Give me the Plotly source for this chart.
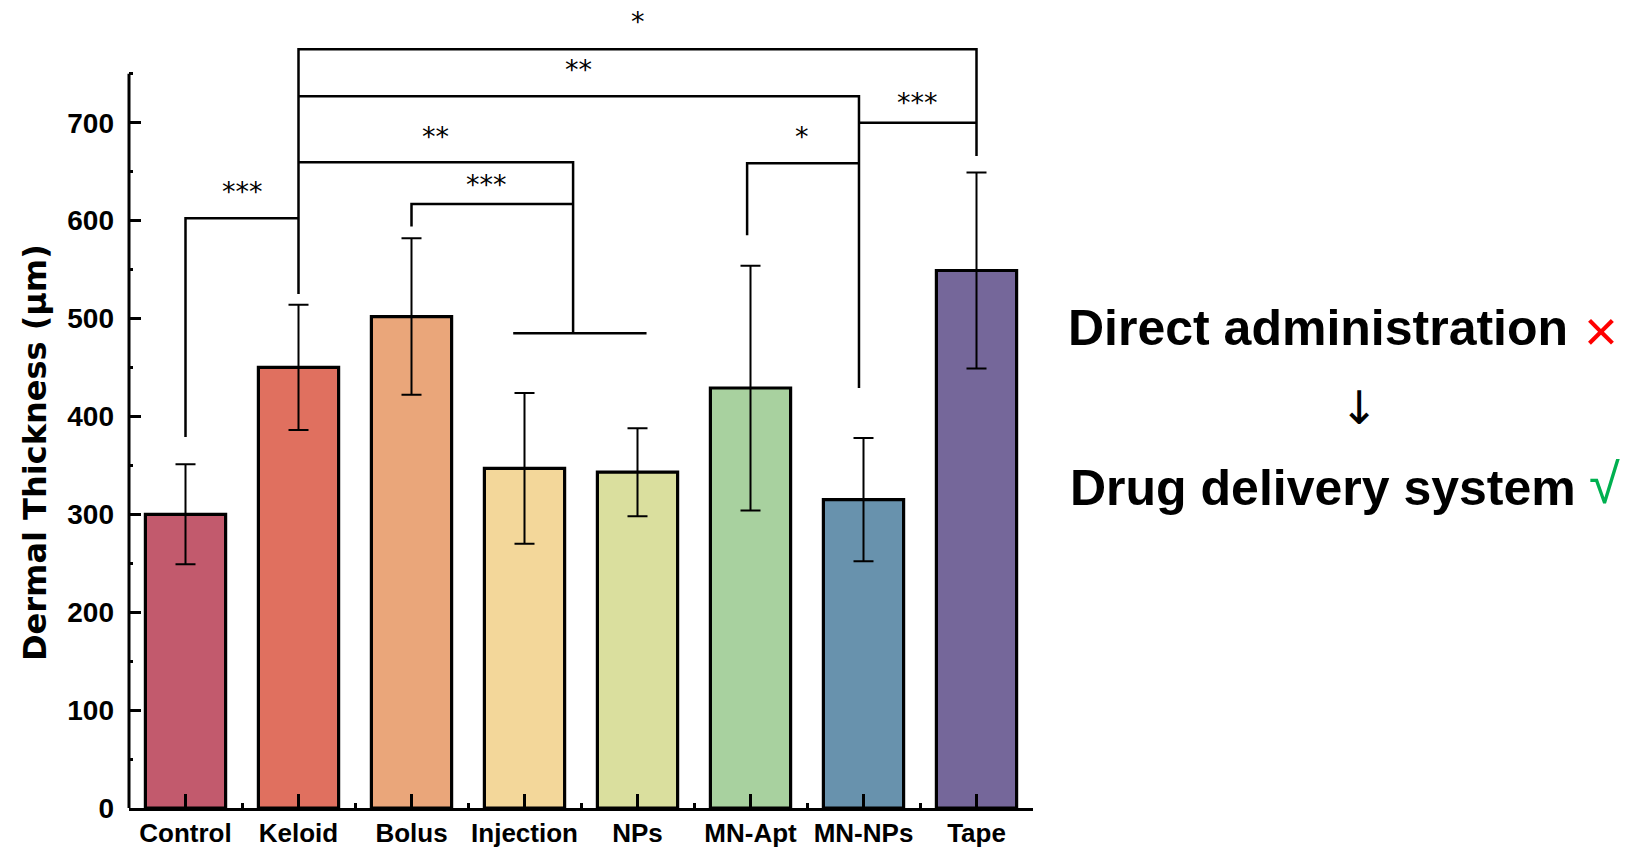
import plotly.graph_objects as go

# ---------------- data ----------------
categories = ["Control", "Keloid", "Bolus", "Injection", "NPs", "MN-Apt", "MN-NPs", "Tape"]
means = [300, 450, 502, 347, 343, 429, 315, 549]
errors = [51, 64, 80, 77, 45, 125, 63, 100]
bar_colors = ["#C25A6D", "#E0705F", "#EAA67A", "#F3D79A", "#DADF9E", "#A8D19F", "#6892AD", "#75679A"]

y_tickvals = [0, 100, 200, 300, 400, 500, 600, 700]
y_minor = [50, 150, 250, 350, 450, 550, 650, 750]
x_minor = [-0.5, 0.5, 1.5, 2.5, 3.5, 4.5, 5.5, 6.5, 7.5]

# significance brackets: polylines in (category index, value)
bracket_paths = [
    [(0, 379), (0, 602.5), (1, 602.5)],
    [(1, 525), (1, 775), (7, 775), (7, 666)],
    [(1, 727), (5.96, 727), (5.96, 429)],
    [(5.96, 700), (7, 700)],
    [(4.97, 585), (4.97, 658.5), (5.96, 658.5)],
    [(1, 659.5), (3.43, 659.5), (3.43, 485)],
    [(2, 594), (2, 617), (3.43, 617)],
    [(2.90, 485), (4.08, 485)],
]
star_labels = [
    (4.0, 805, "*"),
    (3.48, 756, "**"),
    (6.48, 723, "***"),
    (5.46, 688, "*"),
    (2.21, 688, "**"),
    (2.66, 639, "***"),
    (0.5, 632, "***"),
]

# ---------------- layout geometry ----------------
W, H = 1630, 851
ML, MR, MT, MB = 129, 597, 15, 43
PW, PH = W - ML - MR, H - MT - MB


def px2paper(px, py):
    return (px - ML) / PW, (H - MB - py) / PH


fig = go.Figure()

fig.add_trace(go.Bar(
    x=list(range(len(categories))), y=means, width=0.71,
    marker=dict(color=bar_colors, line=dict(color="black", width=3.2)),
    error_y=dict(type="data", array=errors, visible=True, color="black", thickness=2, width=10),
    showlegend=False, hoverinfo="skip",
))

bx, by = [], []
for path in bracket_paths:
    for (px_, py_) in path:
        bx.append(px_)
        by.append(py_)
    bx.append(None)
    by.append(None)
fig.add_trace(go.Scatter(x=bx, y=by, mode="lines", line=dict(color="black", width=2.5),
                         showlegend=False, hoverinfo="skip"))

annotations = []
for (sx, sy, st) in star_labels:
    annotations.append(dict(x=sx, y=sy, xref="x", yref="y", text=st, showarrow=False,
                            yshift=-2, font=dict(family="DejaVu Sans", size=27, color="black")))

# y-axis title
tx, ty = px2paper(35, 453)
annotations.append(dict(x=tx, y=ty, xref="paper", yref="paper", text="Dermal Thickness (μm)",
                        textangle=-90, showarrow=False, xanchor="center", yanchor="middle",
                        font=dict(family="DejaVu Sans", size=32, color="black", weight="bold")))

# right-hand text
fx, fy = px2paper(1066, 328)
annotations.append(dict(x=fx, y=fy, xref="paper", yref="paper", text="Direct administration",
                        showarrow=False, xanchor="left", yanchor="middle",
                        font=dict(family="Liberation Sans", size=50, color="black", weight="bold")))
cx, cy = px2paper(1601, 330)
annotations.append(dict(x=cx, y=cy, xref="paper", yref="paper", text="×",
                        showarrow=False, xanchor="center", yanchor="middle",
                        font=dict(family="Liberation Sans", size=58, color="#FF0000")))
ax_, ay_ = px2paper(1359, 408)
annotations.append(dict(x=ax_, y=ay_, xref="paper", yref="paper", text="↓",
                        showarrow=False, xanchor="center", yanchor="middle",
                        font=dict(family="DejaVu Sans", size=46, color="black")))
dx, dy = px2paper(1068, 488)
annotations.append(dict(x=dx, y=dy, xref="paper", yref="paper", text="Drug delivery system",
                        showarrow=False, xanchor="left", yanchor="middle",
                        font=dict(family="Liberation Sans", size=50, color="black", weight="bold")))
vx, vy = px2paper(1587, 483)
annotations.append(dict(x=vx, y=vy, xref="paper", yref="paper", text="√",
                        showarrow=False, xanchor="left", yanchor="middle",
                        font=dict(family="Liberation Sans", size=56, color="#00B050")))

fig.update_layout(
    width=W, height=H,
    margin=dict(l=ML, r=MR, t=MT, b=MB, pad=0),
    paper_bgcolor="white", plot_bgcolor="white",
    annotations=annotations,
    shapes=[dict(type="line", xref="paper", yref="y", x0=0, x1=0, y0=0, y1=750,
                 line=dict(color="black", width=3))],
    xaxis=dict(
        range=[-0.5, 7.5], showgrid=False, zeroline=False, automargin=False,
        showline=True, linecolor="black", linewidth=3,
        tickvals=list(range(len(categories))), ticktext=categories,
        ticks="inside", ticklen=14, tickwidth=3, tickcolor="black",
        minor=dict(tickvals=x_minor, ticks="inside", ticklen=5, tickwidth=3, tickcolor="black"),
        tickfont=dict(family="Liberation Sans", size=26, color="black", weight="bold"),
    ),
    yaxis=dict(
        range=[0, 810], showgrid=False, zeroline=False, showline=False, automargin=False,
        tickvals=y_tickvals, ticklabelstandoff=14,
        ticks="inside", ticklen=12, tickwidth=3, tickcolor="black",
        minor=dict(tickvals=y_minor, ticks="inside", ticklen=4, tickwidth=3, tickcolor="black"),
        tickfont=dict(family="Liberation Sans", size=28, color="black", weight="bold"),
    ),
)

fig.write_html("out.html", config={"displayModeBar": False},
               post_script="document.body.style.margin='0px';")
